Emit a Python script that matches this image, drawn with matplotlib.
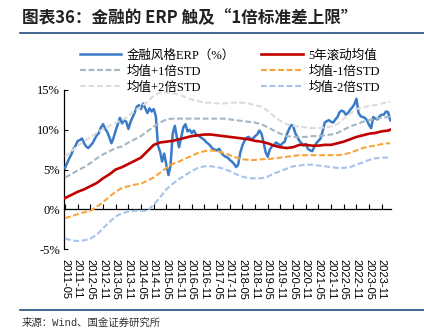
import matplotlib
matplotlib.use('Agg')
import matplotlib.pyplot as plt
import pandas as pd

# monthly ERP of the financial style, in %
erp = [5.2, 5.8, 6.4, 6.9, 7.6, 8.0, 8.6, 8.7, 8.9, 8.3,
       7.9, 7.7, 8.0, 8.3, 8.8, 9.3, 9.6, 10.3, 10.7, 10.1,
       9.7, 9.0, 8.3, 9.0, 9.9, 10.7, 11.5, 10.8, 11.2, 11.0,
       10.1, 11.0, 11.6, 12.2, 12.9, 13.1, 12.6, 13.3, 12.7, 12.1,
       12.7, 12.3, 12.6, 11.7, 8.0, 7.2, 6.0, 7.0, 5.6, 4.3,
       5.5, 9.5, 10.5, 9.0, 7.8, 9.0, 10.3, 10.7, 9.8, 10.0,
       9.6, 9.9, 9.4, 9.3, 9.1, 8.9, 8.7, 8.4, 8.2, 7.9,
       7.6, 7.5, 7.4, 7.6, 7.1, 6.8, 6.6, 6.5, 6.2, 6.0,
       5.7, 5.3, 5.6, 7.1, 8.0, 8.6, 9.0, 9.1, 8.8, 8.9,
       9.2, 9.4, 9.9, 9.5, 8.5, 7.2, 6.6, 7.5, 7.9, 8.1,
       8.4, 8.2, 8.0, 8.3, 8.5, 9.4, 10.0, 10.6, 10.5, 9.6,
       9.1, 8.6, 8.3, 8.0, 8.2, 7.6, 7.4, 7.3, 7.8, 8.3,
       8.6, 8.9, 9.8, 10.9, 11.1, 11.2, 11.0, 10.9, 11.3, 11.6,
       12.2, 12.4, 12.3, 11.9, 12.1, 12.5, 12.8, 13.2, 13.9, 12.1,
       11.7, 11.6, 11.5, 11.2, 10.6, 10.2, 11.6, 11.4, 11.3, 11.7,
       11.9, 11.9, 12.3, 12.2, 11.2]
erp_dates = pd.date_range('2011-05-01', periods=len(erp), freq='MS')

# 5-year rolling mean and the std bands, read quarterly
band_dates = list(pd.date_range('2011-05-01', periods=52, freq='3MS')) + [pd.Timestamp('2024-03-01')]
mean_5y = [1.4, 1.8, 2.2, 2.5, 2.9, 3.3, 3.9, 4.4, 5.0, 5.3,
           5.7, 6.1, 6.5, 7.3, 8.1, 8.4, 8.5, 8.6, 8.8, 9.0,
           9.2, 9.3, 9.4, 9.4, 9.3, 9.2, 9.1, 9.0, 8.9, 8.8,
           8.6, 8.5, 8.3, 8.0, 7.8, 7.7, 7.8, 8.1, 8.1, 8.0,
           8.0, 8.1, 8.1, 8.3, 8.5, 8.8, 9.1, 9.3, 9.5, 9.6,
           9.8, 9.9, 10.0]
plus_1std = [4.0, 4.4, 4.9, 5.3, 5.8, 6.4, 6.9, 7.3, 7.7, 7.9,
             8.4, 8.8, 9.2, 9.8, 10.4, 10.9, 11.3, 11.4, 11.4, 11.4,
             11.4, 11.4, 11.4, 11.4, 11.4, 11.4, 11.3, 11.2, 11.1, 11.0,
             10.9, 10.7, 10.3, 9.9, 9.5, 9.2, 9.1, 9.1, 9.1, 9.2,
             9.2, 9.3, 9.4, 9.6, 10.0, 10.4, 10.7, 11.0, 11.2, 11.4,
             11.5, 11.6, 11.6]
minus_1std = [-1.1, -0.9, -0.6, -0.4, -0.2, 0.3, 0.9, 1.6, 2.2, 2.7,
              2.9, 3.1, 3.2, 3.6, 4.0, 4.6, 5.2, 5.7, 6.0, 6.4,
              6.7, 7.1, 7.3, 7.4, 7.3, 7.1, 6.8, 6.5, 6.3, 6.2,
              6.2, 6.3, 6.3, 6.4, 6.5, 6.6, 6.7, 6.8, 6.8, 6.8,
              6.8, 6.8, 6.8, 6.8, 6.9, 7.1, 7.4, 7.7, 7.9, 8.0,
              8.2, 8.3, 8.3]
plus_2std = [6.6, 7.3, 8.0, 8.5, 9.1, 9.6, 10.1, 10.5, 10.9, 11.2,
             11.7, 12.4, 12.9, 13.5, 14.3, 14.7, 14.7, 14.6, 14.4, 14.1,
             13.8, 13.6, 13.4, 13.4, 13.3, 13.3, 13.4, 13.4, 13.4, 13.3,
             13.1, 12.9, 12.4, 11.7, 11.1, 10.7, 10.5, 10.4, 10.3, 10.2,
             10.2, 10.3, 10.4, 10.7, 11.4, 12.0, 12.6, 12.8, 13.0, 13.1,
             13.3, 13.5, 13.5]
minus_2std = [-3.7, -3.9, -4.0, -3.9, -3.7, -3.2, -2.4, -1.6, -0.9, -0.5,
              -0.3, -0.2, -0.2, -0.2, 0.6, 1.5, 2.5, 3.2, 3.8, 4.3,
              4.8, 5.2, 5.4, 5.4, 5.3, 5.1, 4.8, 4.4, 4.1, 3.9,
              3.9, 3.9, 4.1, 4.5, 4.8, 5.1, 5.4, 5.5, 5.6, 5.6,
              5.5, 5.4, 5.3, 5.2, 5.2, 5.3, 5.6, 5.9, 6.2, 6.4,
              6.5, 6.5, 6.5]

tick_labels = ['2011-05', '2011-11', '2012-05', '2012-11', '2013-05', '2013-11',
               '2014-05', '2014-11', '2015-05', '2015-11', '2016-05', '2016-11',
               '2017-05', '2017-11', '2018-05', '2018-11', '2019-05', '2019-11',
               '2020-05', '2020-11', '2021-05', '2021-11', '2022-05', '2022-11',
               '2023-05', '2023-11']
y_ticks = [-5, 0, 5, 10, 15]

CJK = 'Noto Sans CJK SC'
serif_cjk = ['Liberation Serif', CJK]

W, H = 424, 336
fig = plt.figure(figsize=(W / 100, H / 100), dpi=100)
ax = fig.add_axes([64 / W, 1 - 249 / H, (391 - 64) / W, (249 - 90) / H])

dash = (0, (2.8, 1.3))
ax.plot(erp_dates, erp, color='#3a7bc8', lw=1.8, label='金融风格ERP（%）', zorder=3)
ax.plot(band_dates, mean_5y, color='#c00000', lw=1.9, label='5年滚动均值', zorder=4)
ax.plot(band_dates, plus_1std, color='#a3b6c4', lw=1.5, ls=dash, label='均值+1倍STD', zorder=5)
ax.plot(band_dates, minus_1std, color='#f9a43a', lw=1.5, ls=dash, label='均值-1倍STD', zorder=5)
ax.plot(band_dates, plus_2std, color='#dcdcdc', lw=1.5, ls=dash, label='均值+2倍STD', zorder=5)
ax.plot(band_dates, minus_2std, color='#a7c3ec', lw=1.5, ls=dash, label='均值-2倍STD', zorder=5)

# x axis line sits on the 0% level; moving the spine resets ticks, so do it first
ax.spines['bottom'].set_position(('data', 0))
for s in ('top', 'right'):
    ax.spines[s].set_visible(False)
for s in ('left', 'bottom'):
    ax.spines[s].set_linewidth(0.9)

ax.set_ylim(-5, 15)
ax.set_xlim(pd.Timestamp('2011-04-17'), pd.Timestamp('2024-03-13'))
ax.set_yticks(y_ticks)
ax.set_yticklabels([f'{v}%' for v in y_ticks], fontfamily='Liberation Serif', fontsize=9)
ax.tick_params(axis='y', direction='in', length=3, width=0.8, pad=3)

ax.set_xticks(pd.to_datetime(tick_labels))
ax.set_xticklabels(tick_labels, rotation=270, fontfamily='Liberation Sans', fontsize=8)
ax.tick_params(axis='x', direction='in', length=3.5, width=0.8, pad=35.5)

# legend: two columns, three rows
h, l = ax.get_legend_handles_labels()
order = [0, 2, 4, 1, 3, 5]
fig.legend([h[i] for i in order], [l[i] for i in order], ncol=2, frameon=False,
           loc='upper left', bbox_to_anchor=(80 / W, 1 - 49 / H),
           prop={'family': serif_cjk, 'size': 9}, handlelength=3.3,
           handletextpad=0.45, columnspacing=2.1, labelspacing=0.32,
           borderpad=0, borderaxespad=0)

# header, rules and source
fig.text(22 / W, 1 - 18 / H, '图表36：金融的 ERP 触及“1倍标准差上限”', fontsize=12,
         fontweight='bold', fontfamily=CJK, color='#222222', va='center', ha='left')
fig.add_artist(plt.Line2D([20 / W, 1], [1 - 33 / H] * 2, color='#1f4e79', lw=1.2))
fig.add_artist(plt.Line2D([20 / W, 1], [1 - 310 / H] * 2, color='#1f4e79', lw=1.2))
fig.text(22 / W, 1 - 323 / H, '来源：Wind、国金证券研究所', fontsize=7.5,
         fontfamily=['Liberation Mono', CJK], color='#333333', va='center', ha='left')

fig.savefig('out.png', dpi=100)
